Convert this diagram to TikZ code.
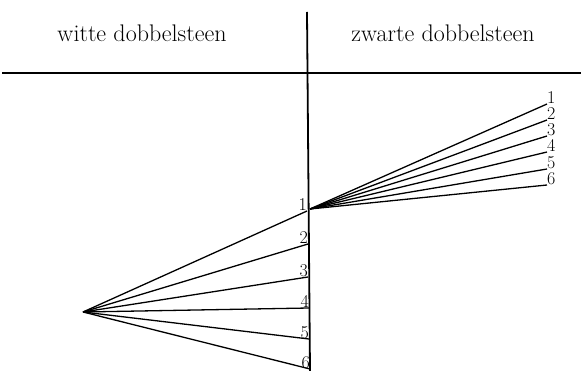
\documentclass[tikz,border=0pt]{standalone}
\usepackage{fontspec}
\usepackage{tikz}
\usetikzlibrary{positioning}

\begin{document}
\begin{tikzpicture}[
  x=1pt, y=-1pt,
  head/.style={font=\fontsize{24}{28}\selectfont, anchor=base, inner sep=0pt},
  num/.style={font=\fontsize{18}{20}\selectfont, inner sep=0pt},
  axis/.style={draw=black, line width=1.8pt},
  ray/.style={draw=black, line width=1.3pt}]
\useasboundingbox (0,0) rectangle (581,371);
% table head
\coordinate (top) at (307,12); \coordinate (bot) at (310,371);
\coordinate (hl) at (2,73); \coordinate (hr) at (581,73);
\draw[axis] (top) -- (bot);
\draw[axis] (hl) -- (hr);
\node[head] (wit) at (142,42) {witte dobbelsteen};
\node[head] (zw) at (443,42) {zwarte dobbelsteen};
% white die: fan from the left
\coordinate (w) at (83,312);
\node[num, anchor=south east] (w1) at (307,211) {1};
\node[num, anchor=south east] (w2) at (308,244) {2};
\node[num, anchor=south east] (w3) at (308,277) {3};
\node[num, anchor=south east] (w4) at (309,308) {4};
\node[num, anchor=south east] (w5) at (309,339) {5};
\node[num, anchor=south east] (w6) at (310,369) {6};
\draw[ray] (w) -- (w1.south east); \draw[ray] (w) -- (w2.south east);
\draw[ray] (w) -- (w3.south east); \draw[ray] (w) -- (w4.south east);
\draw[ray] (w) -- (w5.south east); \draw[ray] (w) -- (w6.south east);
% black die: fan to the right
\coordinate (z) at (310,209);
\node[num, anchor=south west] (z1) at (547,104) {1};
\node[num, anchor=south west] (z2) at (547,120) {2};
\node[num, anchor=south west] (z3) at (547,136) {3};
\node[num, anchor=south west] (z4) at (547,152) {4};
\node[num, anchor=south west] (z5) at (547,169) {5};
\node[num, anchor=south west] (z6) at (547,185) {6};
\draw[ray] (z) -- (z1.south west); \draw[ray] (z) -- (z2.south west);
\draw[ray] (z) -- (z3.south west); \draw[ray] (z) -- (z4.south west);
\draw[ray] (z) -- (z5.south west); \draw[ray] (z) -- (z6.south west);
\end{tikzpicture}
\end{document}
